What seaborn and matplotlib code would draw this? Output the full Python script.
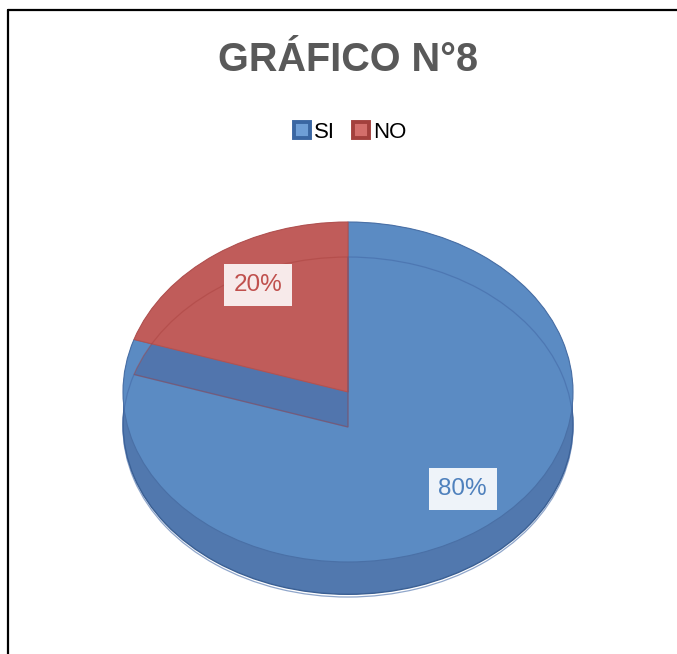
import numpy as np
import matplotlib
matplotlib.use("Agg")
import matplotlib.pyplot as plt
import seaborn as sns
from matplotlib.lines import Line2D

sns.set_theme(style="white")
plt.rcParams["font.family"] = ["Liberation Sans", "DejaVu Sans"]

# data
categories = ["SI", "NO"]
values = [80, 20]
title = "GRÁFICO N°8"

# colours
top_colors = ["#5B8BC3", "#C05C5A"]
side_color = "#5178AE"
band_color = "#5175AD"
label_colors = ["#4F81BD", "#C0504D"]
legend_face = ["#6E9ED6", "#D36E6B"]
legend_edge = ["#3A66A2", "#A3403D"]

fig = plt.figure(figsize=(6.77, 6.54), dpi=100)
fig.patch.set_facecolor("white")
ax = fig.add_axes([0, 0, 1, 1])

depth = 0.19
shift = 0.206

# side of the 3d pie: stacked layers
for k in np.linspace(depth, 0.0, 40):
    ax.pie(values, colors=[side_color, side_color], startangle=90, counterclock=False,
           center=(0, -k), wedgeprops=dict(linewidth=0, zorder=1))
# bottom outline of the rim
ax.pie(values, colors=["none", "none"], startangle=90, counterclock=False,
       center=(0, -depth),
       wedgeprops=dict(linewidth=1.0, edgecolor="#3A5F93", zorder=1.1))

# top face
top, _, pct = ax.pie(values, colors=top_colors, startangle=90, counterclock=False,
                     autopct="%1.0f%%", pctdistance=0.7,
                     wedgeprops=dict(linewidth=0.8, edgecolor="#4A70A6", zorder=2),
                     textprops=dict(fontsize=17.5, zorder=10))
top[1].set_zorder(3)
top[1].set_edgecolor("#B35250")

# cut face of the blue slice seen under the red one
band, _ = ax.pie(values, colors=["none", band_color], startangle=90, counterclock=False,
                 center=(0, -shift), wedgeprops=dict(linewidth=0, zorder=2.5))
band[0].set_visible(False)

# faint bevel lines
bevel, _ = ax.pie(values, colors=["none", "none"], startangle=90, counterclock=False,
                  center=(0, -shift),
                  wedgeprops=dict(linewidth=0.9, zorder=3.5))
bevel[0].set_edgecolor((0.27, 0.42, 0.66, 0.6))
bevel[1].set_edgecolor((0.66, 0.25, 0.24, 0.45))
bevel[0].set_clip_path(top[0])
bevel[1].set_clip_path(top[1])

# label placement as in the picture
label_pos = [(0.51, -0.57), (-0.40, 0.63)]
for t, c, fc, p in zip(pct, label_colors, ["#EEF3F9", "#F7EAEA"], label_pos):
    t.set_color(c)
    t.set_position(p)
    t.set_bbox(dict(boxstyle="square,pad=0.4", facecolor=fc, edgecolor="none"))

# map unit circle to the ellipse seen in the picture
ax.set_aspect("auto")
ax.set_xlim(-348 / 225, (677 - 348) / 225)
ax.set_ylim(-262 / 170, (654 - 262) / 170)
ax.axis("off")

fig.text(348 / 677, 1 - 60 / 654, title, ha="center", va="center",
         fontsize=28.5, fontweight="bold", color="#595959")

handles = [Line2D([], [], linestyle="none", marker="s", markersize=11,
                  markerfacecolor=legend_face[i], markeredgecolor=legend_edge[i],
                  markeredgewidth=2.8) for i in range(len(categories))]
fig.legend(handles, categories, loc="center", bbox_to_anchor=(349 / 677, 1 - 132 / 654),
           ncol=2, frameon=False, fontsize=16, handlelength=0.9, handletextpad=0.1,
           columnspacing=0.7, borderaxespad=0, labelcolor="black")

# outer chart frame (only top and left visible)
fig.add_artist(Line2D([8 / 677, 1], [1 - 10 / 654, 1 - 10 / 654], color="black", lw=1.6,
                      transform=fig.transFigure))
fig.add_artist(Line2D([8 / 677, 8 / 677], [0, 1 - 10 / 654], color="black", lw=1.6,
                      transform=fig.transFigure))

fig.savefig("out.png", dpi=100)
